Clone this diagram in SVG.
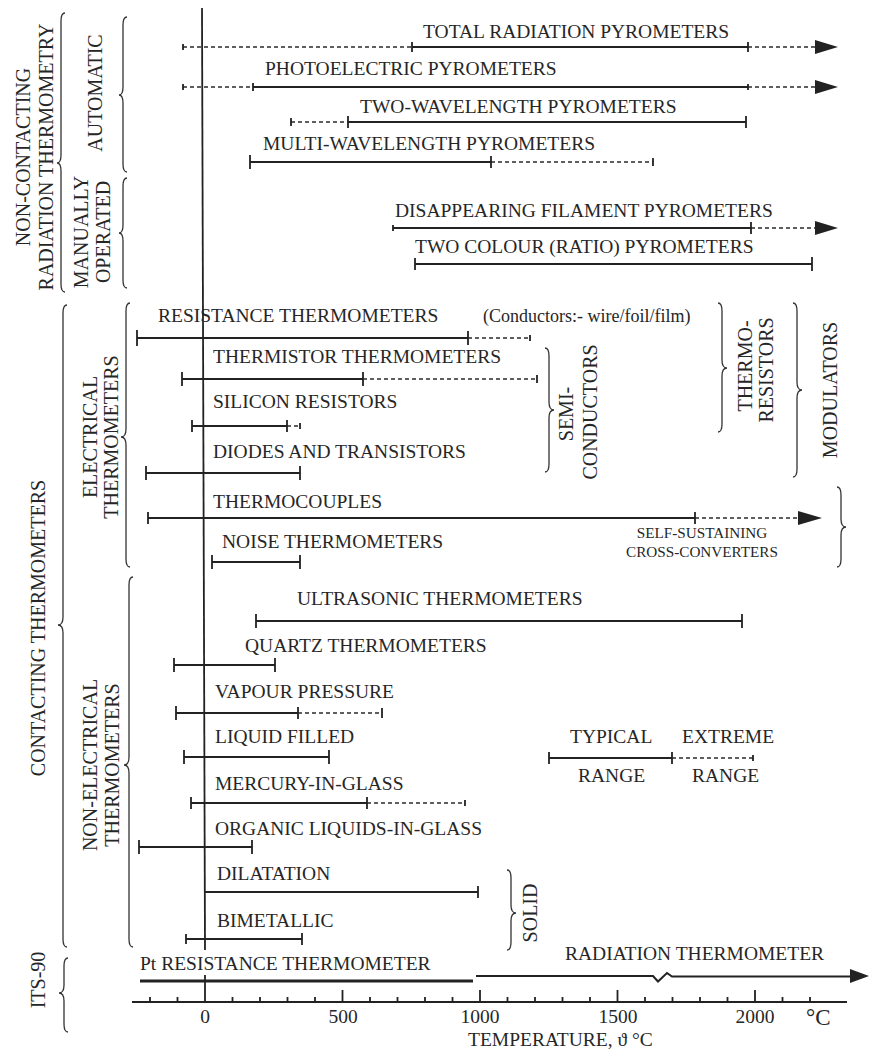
<svg xmlns="http://www.w3.org/2000/svg" width="870" height="1051" viewBox="0 0 870 1051">
<defs>
<style>
.t{font-family:"Liberation Serif","Times New Roman",serif;font-size:19.5px;fill:#262626}
.v{font-family:"Liberation Serif","Times New Roman",serif;font-size:20px;fill:#262626;text-anchor:middle}
.sm{font-size:15.2px;text-anchor:middle}
.c{text-anchor:middle}
.s{stroke:#222;stroke-width:2;fill:none}
.d{stroke:#2a2a2a;stroke-width:1.7;stroke-dasharray:4 3;fill:none}
.k{stroke:#222;stroke-width:1.8;fill:none}
.b{stroke:#333;stroke-width:1.3;fill:none}
.a{fill:#222}
</style>
</defs>
<rect width="870" height="1051" fill="#fff"/>

<g id="axes">
<line class="k" x1="202" y1="8" x2="205" y2="950"/>
<line class="k" x1="132" y1="1002" x2="847" y2="1002"/>
<path class="k" d="M150,997V1002M177.5,997V1002M205,975V1002M232.5,997V1002M260,997V1002M287.5,997V1002M315,997V1002M342.5,990V1002M370,997V1002M397.5,997V1002M425,997V1002M452.5,997V1002M480,990V1002M507.5,997V1002M535,997V1002M562.5,997V1002M590,997V1002M617.5,990V1002M645,997V1002M672.5,997V1002M700,997V1002M727.5,997V1002M755,990V1002M782.5,997V1002M810,997V1002"/>
<text class="t c" x="205" y="1023">0</text>
<text class="t c" x="343" y="1023">500</text>
<text class="t c" x="480" y="1023">1000</text>
<text class="t c" x="618" y="1023">1500</text>
<text class="t c" x="755" y="1023">2000</text>
<text class="t" x="806" y="1025" style="font-size:23px">°C</text>
<text class="t" x="468" y="1046">TEMPERATURE, ϑ °C</text>
</g>

<g id="brackets">
<path class="b" d="M65,13 Q61,13 61,21 L61,155 Q61,163 57,163 Q61,163 61,171 L61,284 Q61,292 65,292"/>
<path class="b" d="M127,17 Q123,17 123,25 L123,87 Q123,95 119,95 Q123,95 123,103 L123,164 Q123,172 127,172"/>
<path class="b" d="M127,178 Q123,178 123,186 L123,225 Q123,233 119,233 Q123,233 123,241 L123,280 Q123,288 127,288"/>
<path class="b" d="M67,305 Q63,305 63,313 L63,617 Q63,625 58,625 Q63,625 63,633 L63,939 Q63,947 67,947"/>
<path class="b" d="M130,303 Q126,303 126,311 L126,429 Q126,437 121,437 Q126,437 126,445 L126,559 Q126,567 130,567"/>
<path class="b" d="M133,577 Q129,577 129,585 L129,757 Q129,765 124,765 Q129,765 129,773 L129,939 Q129,947 133,947"/>
<path class="b" d="M68,958 Q64,958 64,966 L64,985 Q64,993 59,993 Q64,993 64,1001 L64,1024 Q64,1032 68,1032"/>
<path class="b" d="M545,348 Q549,348 549,356 L549,402 Q549,410 554,410 Q549,410 549,418 L549,464 Q549,472 545,472"/>
<path class="b" d="M718,303 Q722,303 722,311 L722,360 Q722,368 727,368 Q722,368 722,376 L722,424 Q722,432 718,432"/>
<path class="b" d="M793,303 Q797,303 797,311 L797,382 Q797,390 802,390 Q797,390 797,398 L797,469 Q797,477 793,477"/>
<path class="b" d="M837,487 Q841,487 841,495 L841,519 Q841,527 846,527 Q841,527 841,535 L841,559 Q841,567 837,567"/>
<path class="b" d="M507,870 Q511,870 511,878 L511,905 Q511,913 516,913 Q511,913 511,921 L511,942 Q511,950 507,950"/>
</g>

<g id="group-labels">
<text class="v" transform="translate(30,157) rotate(-90)">NON-CONTACTING</text>
<text class="v" transform="translate(53,157) rotate(-90)">RADIATION THERMOMETRY</text>
<text class="v" transform="translate(102,93) rotate(-90)">AUTOMATIC</text>
<text class="v" transform="translate(88,232) rotate(-90)">MANUALLY</text>
<text class="v" transform="translate(110,232) rotate(-90)">OPERATED</text>
<text class="v" transform="translate(45,628) rotate(-90)">CONTACTING THERMOMETERS</text>
<text class="v" transform="translate(97,437) rotate(-90)">ELECTRICAL</text>
<text class="v" transform="translate(118,437) rotate(-90)">THERMOMETERS</text>
<text class="v" transform="translate(97,765) rotate(-90)">NON-ELECTRICAL</text>
<text class="v" transform="translate(119,765) rotate(-90)">THERMOMETERS</text>
<text class="v" transform="translate(45,980) rotate(-90)">ITS-90</text>
<text class="v" transform="translate(573,414) rotate(-90)">SEMI-</text>
<text class="v" transform="translate(597,412) rotate(-90)">CONDUCTORS</text>
<text class="v" transform="translate(752,366) rotate(-90)">THERMO-</text>
<text class="v" transform="translate(773,370) rotate(-90)">RESISTORS</text>
<text class="v" transform="translate(837,390) rotate(-90)">MODULATORS</text>
<text class="v" transform="translate(537,913) rotate(-90)">SOLID</text>
</g>

<g id="row-total-radiation">
<text class="t" x="423" y="38">TOTAL RADIATION PYROMETERS</text>
</g>
<g id="row-photoelectric">
<text class="t" x="265" y="75">PHOTOELECTRIC PYROMETERS</text>
</g>
<g id="row-two-wavelength">
<text class="t" x="360" y="113">TWO-WAVELENGTH PYROMETERS</text>
</g>
<g id="row-multi-wavelength">
<text class="t" x="263" y="150">MULTI-WAVELENGTH PYROMETERS</text>
</g>
<g id="row-disappearing">
<text class="t" x="395" y="217">DISAPPEARING FILAMENT PYROMETERS</text>
</g>
<g id="row-two-colour">
<text class="t" x="415" y="253">TWO COLOUR (RATIO) PYROMETERS</text>
</g>
<g id="row-resistance">
<text class="t" x="158" y="322">RESISTANCE THERMOMETERS</text>
<text class="t" x="483" y="322" style="font-size:18px">(Conductors:- wire/foil/film)</text>
</g>
<g id="row-thermistor">
<text class="t" x="213" y="363">THERMISTOR THERMOMETERS</text>
</g>
<g id="row-silicon">
<text class="t" x="213" y="408">SILICON RESISTORS</text>
</g>
<g id="row-diodes">
<text class="t" x="213" y="458">DIODES AND TRANSISTORS</text>
</g>
<g id="row-thermocouples">
<text class="t" x="213" y="508">THERMOCOUPLES</text>
<text class="t sm" x="702" y="538">SELF-SUSTAINING</text>
<text class="t sm" x="702" y="557">CROSS-CONVERTERS</text>
</g>
<g id="row-noise">
<text class="t" x="222" y="548">NOISE THERMOMETERS</text>
</g>
<g id="row-ultrasonic">
<text class="t" x="297" y="605">ULTRASONIC THERMOMETERS</text>
</g>
<g id="row-quartz">
<text class="t" x="245" y="652">QUARTZ THERMOMETERS</text>
</g>
<g id="row-vapour">
<text class="t" x="215" y="698">VAPOUR PRESSURE</text>
</g>
<g id="row-liquid">
<text class="t" x="215" y="743">LIQUID FILLED</text>
</g>
<g id="row-mercury">
<text class="t" x="215" y="790">MERCURY-IN-GLASS</text>
</g>
<g id="row-organic">
<text class="t" x="215" y="835">ORGANIC LIQUIDS-IN-GLASS</text>
</g>
<g id="row-dilatation">
<text class="t" x="217" y="880">DILATATION</text>
</g>
<g id="row-bimetallic">
<text class="t" x="217" y="927">BIMETALLIC</text>
</g>
<g id="legend">
<text class="t" x="570" y="743">TYPICAL</text>
<text class="t" x="682" y="743">EXTREME</text>
<text class="t" x="578" y="782">RANGE</text>
<text class="t" x="692" y="782">RANGE</text>
</g>
<g id="its90">
<text class="t" x="140" y="970">Pt RESISTANCE THERMOMETER</text>
<text class="t" x="565" y="960">RADIATION THERMOMETER</text>
</g>

<g id="connectors">
<!-- total radiation -->
<path class="d" d="M183,47H412M748,47H817"/>
<path class="s" d="M412,47H748"/>
<path class="k" d="M183,44V50M412,42V52M748,42V52"/>
<path class="a" d="M815,40L838,47L815,54Z"/>
<!-- photoelectric -->
<path class="d" d="M183,87H253M748,87H817"/>
<path class="s" d="M253,87H748"/>
<path class="k" d="M183,84V90M253,83V91M748,84V90"/>
<path class="a" d="M815,80L838,87L815,94Z"/>
<!-- two-wavelength -->
<path class="d" d="M291,122H348"/>
<path class="s" d="M348,122H746"/>
<path class="k" d="M291,118V126M348,116V128M746,116V128"/>
<!-- multi-wavelength -->
<path class="s" d="M250,162H491"/>
<path class="d" d="M491,162H653"/>
<path class="k" d="M250,155V169M491,156V168M653,158V166"/>
<!-- disappearing -->
<path class="s" d="M393,228H751"/>
<path class="d" d="M751,228H817"/>
<path class="k" d="M393,225V231M751,222V234"/>
<path class="a" d="M815,221L838,228L815,235Z"/>
<!-- two colour -->
<path class="s" d="M415,264H812"/>
<path class="k" d="M415,258V270M812,257V271"/>
<!-- resistance -->
<path class="s" d="M137,338H468"/>
<path class="d" d="M468,338H530"/>
<path class="k" d="M137,330V346M468,331V345M530,335V341"/>
<!-- thermistor -->
<path class="s" d="M182,379H363"/>
<path class="d" d="M363,379H537"/>
<path class="k" d="M182,372V386M363,372V386M537,375V383"/>
<!-- silicon -->
<path class="s" d="M192,426H287"/>
<path class="d" d="M287,426H300"/>
<path class="k" d="M192,420V432M287,420V432M300,423V429"/>
<!-- diodes -->
<path class="s" d="M146,473H300"/>
<path class="k" d="M146,466V480M300,466V480"/>
<!-- thermocouples -->
<path class="s" d="M148,518H695"/>
<path class="d" d="M695,518H800"/>
<path class="k" d="M148,512V524M695,512V524"/>
<path class="a" d="M798,511L822,518L798,525Z"/>
<!-- noise -->
<path class="s" d="M212,562H300"/>
<path class="k" d="M212,555V569M300,555V569"/>
<!-- ultrasonic -->
<path class="s" d="M256,621H742"/>
<path class="k" d="M256,614V628M742,614V628"/>
<!-- quartz -->
<path class="s" d="M174,665H275"/>
<path class="k" d="M174,658V672M275,658V672"/>
<!-- vapour -->
<path class="s" d="M176,713H298"/>
<path class="d" d="M298,713H382"/>
<path class="k" d="M176,706V720M298,707V719M382,708V718"/>
<!-- liquid filled -->
<path class="s" d="M184,757H329"/>
<path class="k" d="M184,750V764M329,750V764"/>
<!-- mercury -->
<path class="s" d="M191,803H367"/>
<path class="d" d="M367,803H465"/>
<path class="k" d="M191,797V809M367,797V809M465,800V806"/>
<!-- organic -->
<path class="s" d="M139,847H252"/>
<path class="k" d="M139,840V854M252,840V854"/>
<!-- dilatation -->
<path class="s" d="M205,892H478"/>
<path class="k" d="M478,886V898"/>
<!-- bimetallic -->
<path class="s" d="M186,939H302"/>
<path class="k" d="M186,934V944M302,933V945"/>
<!-- legend -->
<path class="s" d="M549,758H672"/>
<path class="d" d="M672,758H753"/>
<path class="k" d="M549,752V764M672,752V764M753,755V761"/>
<!-- ITS-90 -->
<path class="s" d="M140,981H473" style="stroke-width:3"/>
<path class="s" d="M476,976H653L658,981.5L667,973L672,976.5H852"/>
<path class="a" d="M850,969L869,976L850,983Z"/>
</g>
</svg>
